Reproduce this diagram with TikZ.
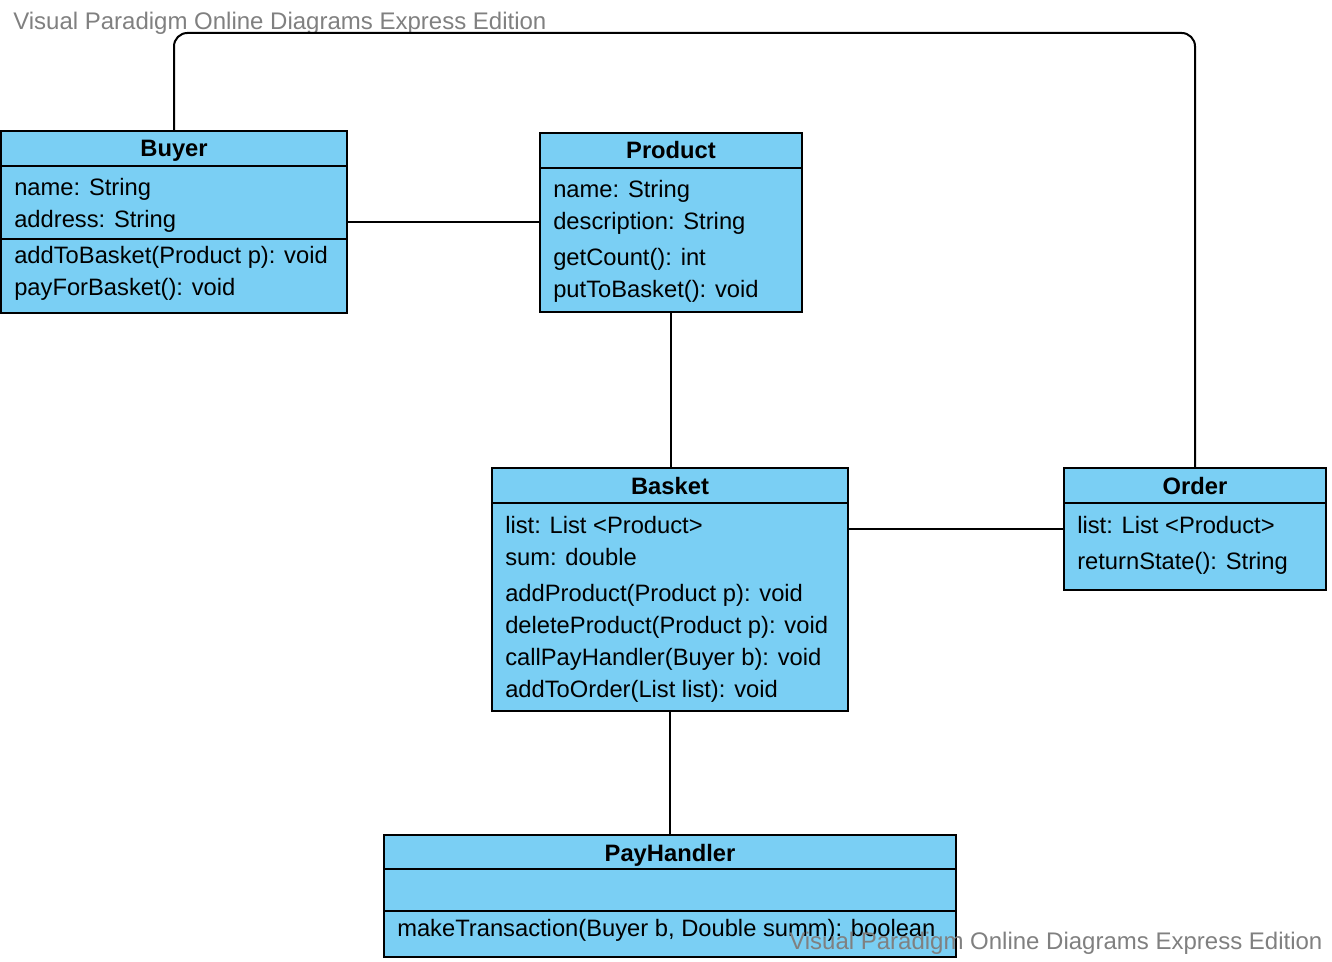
\documentclass[tikz,border=0pt]{standalone}
\usepackage{fontspec}
\setmainfont{Liberation Sans}
\usetikzlibrary{calc}
\def\pxu{0.75pt}
\definecolor{clsfill}{RGB}{122,207,244}
\definecolor{wmgray}{RGB}{128,128,128}
\tikzset{
  cls/.style={draw=black, fill=clsfill, line width=1.5pt, inner sep=0pt, outer sep=0pt},
  sep/.style={draw=black, line width=1.5pt},
  conn/.style={draw=black, line width=1.5pt},
  txt/.style={anchor=base west, inner sep=0pt, font=\fontsize{17.8}{20}\selectfont},
  hdr/.style={anchor=base, inner sep=0pt, font=\fontsize{17.8}{20}\selectfont\bfseries},
  wm/.style={anchor=base west, inner sep=0pt, text=wmgray, font=\fontsize{18}{20}\selectfont}
}
\begin{document}
\begin{tikzpicture}[x=0.75pt, y=-0.75pt]
\useasboundingbox (0,0) rectangle (1332,962);
% watermark top
\node[wm] (wm1) at (13,30) {Visual Paradigm Online Diagrams Express Edition};
% class boxes
\node[cls, minimum width=346*\pxu, minimum height=182*\pxu] (buyer) at (174,222.5) {};
\node[cls, minimum width=262*\pxu, minimum height=179*\pxu] (product) at (671,222.5) {};
\node[cls, minimum width=356*\pxu, minimum height=243*\pxu] (basket) at (670,589.5) {};
\node[cls, minimum width=262*\pxu, minimum height=122*\pxu] (order) at (1195,529) {};
\node[cls, minimum width=572*\pxu, minimum height=122*\pxu] (pay) at (670,896) {};
% separators
\draw[sep] (buyer.west |- 0,166) -- (buyer.east |- 0,166);
\draw[sep] (buyer.west |- 0,239) -- (buyer.east |- 0,239);
\draw[sep] (product.west |- 0,168) -- (product.east |- 0,168);
\draw[sep] (basket.west |- 0,503) -- (basket.east |- 0,503);
\draw[sep] (order.west |- 0,503) -- (order.east |- 0,503);
\draw[sep] (pay.west |- 0,869) -- (pay.east |- 0,869);
\draw[sep] (pay.west |- 0,911) -- (pay.east |- 0,911);
% Buyer texts
\node[hdr] (buyerT) at (174,157) {Buyer};
\node[txt] (b1) at (14,196) {name: String};
\node[txt] (b2) at (14,228) {address: String};
\node[txt] (b3) at (14,264) {addToBasket(Product p): void};
\node[txt] (b4) at (14,296) {payForBasket(): void};
% Product texts
\node[hdr] (productT) at (671,159) {Product};
\node[txt] (p1) at (553,198) {name: String};
\node[txt] (p2) at (553,230) {description: String};
\node[txt] (p3) at (553,266) {getCount(): int};
\node[txt] (p4) at (553,298) {putToBasket(): void};
% Basket texts
\node[hdr] (basketT) at (670,494) {Basket};
\node[txt] (k1) at (505,533) {list: List <Product>};
\node[txt] (k2) at (505,565) {sum: double};
\node[txt] (k3) at (505,601) {addProduct(Product p): void};
\node[txt] (k4) at (505,633) {deleteProduct(Product p): void};
\node[txt] (k5) at (505,665) {callPayHandler(Buyer b): void};
\node[txt] (k6) at (505,697) {addToOrder(List list): void};
% Order texts
\node[hdr] (orderT) at (1195,494) {Order};
\node[txt] (o1) at (1077,533) {list: List <Product>};
\node[txt] (o2) at (1077,569) {returnState(): String};
% PayHandler texts
\node[hdr] (payT) at (670,861) {PayHandler};
\node[txt] (h1) at (397,936) {makeTransaction(Buyer b, Double summ): boolean};
% connectors
\coordinate (topline) at (600,33);
\draw[conn, rounded corners=10pt] (buyer.north) |- (topline) -| (order.north);
\draw[conn] (buyer.east) -- (product.west);
\draw[conn] (product.south) -- (basket.north -| product.south);
\draw[conn] (order.west) -- (order.west -| basket.east);
\draw[conn] (basket.south) -- (pay.north);
% watermark bottom
\node[wm] (wm2) at (789,949) {Visual Paradigm Online Diagrams Express Edition};
\end{tikzpicture}
\end{document}
